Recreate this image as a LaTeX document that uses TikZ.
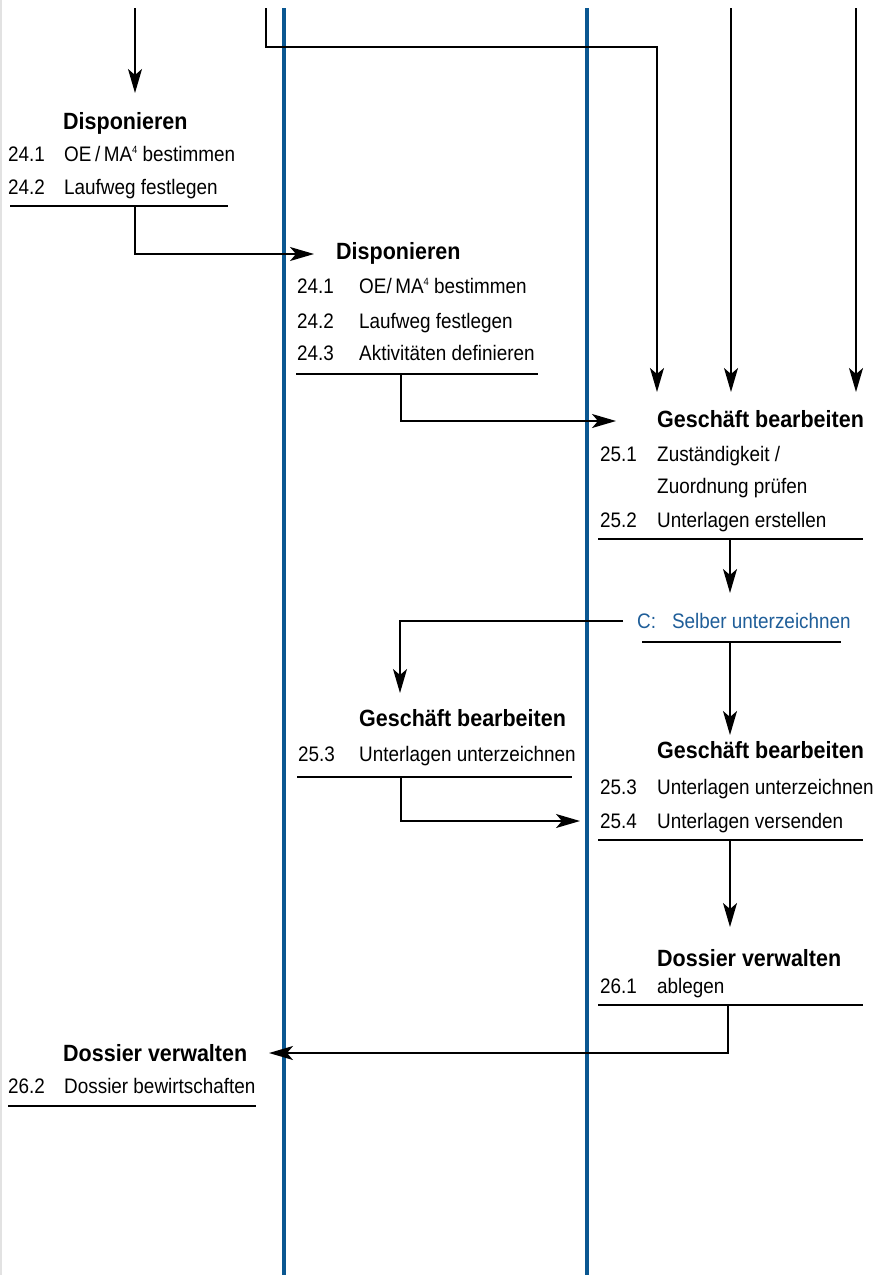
\documentclass[tikz,border=0pt]{standalone}
\usepackage{fontspec}
\setmainfont{Liberation Sans}
\newfontfamily\condfont[FakeStretch=0.9]{Liberation Sans}
\newfontfamily\condboldfont[FakeStretch=0.915]{Liberation Sans}
\usetikzlibrary{arrows.meta}
\definecolor{laneblue}{HTML}{0A5791}
\definecolor{choiceblue}{HTML}{1F5E99}
\definecolor{edgegrey}{HTML}{E2E2E2}
\newcommand{\supfour}{\raisebox{7.2pt}{\fontsize{10.5}{10.5}\selectfont 4}}
\begin{document}
\begin{tikzpicture}[x=1pt,y=-1pt,
  txt/.style={anchor=base west,inner sep=0pt,font=\condfont\fontsize{21}{24}\selectfont},
  ttl/.style={anchor=base west,inner sep=0pt,font=\condboldfont\fontsize{23.5}{26}\selectfont\bfseries},
  flow/.style={draw=black,line width=1.5pt,-{Stealth[length=24pt,width=14pt,inset=6pt]}},
  rulel/.style={draw=black,line width=1.5pt},
  lane/.style={draw=laneblue,line width=3.2pt}]
\useasboundingbox (0,0) rectangle (878,1275);
\fill[white] (0,0) rectangle (878,1275);
% left page edge
\coordinate (edgeT) at (0.8,0);
\coordinate (edgeB) at (0.8,1275);
\draw[edgegrey,line width=1.6pt] (edgeT) -- (edgeB);
% swimlane separators
\coordinate (lane1T) at (284,8);
\coordinate (lane1B) at (284,1275);
\coordinate (lane2T) at (587,8);
\coordinate (lane2B) at (587,1275);
\draw[lane] (lane1T) -- (lane1B);
\draw[lane] (lane2T) -- (lane2B);

% ---- Block A: Disponieren (left)
\node[ttl] (A) at (63,129) {Disponieren};
\node[txt] (A1n) at (8,161) {24.1};
\node[txt] (A1) at (64,161) {OE\,/\,MA\supfour{} bestimmen};
\node[txt] (A2n) at (8,194) {24.2};
\node[txt] (A2) at (64,194) {Laufweg festlegen};
\coordinate (AuL) at (10,206);
\coordinate (AuR) at (228,206);
\draw[rulel] (AuL) -- (AuR);

% ---- Block B: Disponieren (middle)
\node[ttl] (B) at (336,259) {Disponieren};
\node[txt] (B1n) at (297,293) {24.1};
\node[txt] (B1) at (359,293) {OE/\,MA\supfour{} bestimmen};
\node[txt] (B2n) at (297,328) {24.2};
\node[txt] (B2) at (359,328) {Laufweg festlegen};
\node[txt] (B3n) at (297,360) {24.3};
\node[txt] (B3) at (359,360) {Aktivitäten definieren};
\coordinate (BuL) at (296,374);
\coordinate (BuR) at (538,374);
\draw[rulel] (BuL) -- (BuR);

% ---- Block C: Geschäft bearbeiten (right, upper)
\node[ttl] (C) at (657,427) {Geschäft bearbeiten};
\node[txt] (C1n) at (600,461) {25.1};
\node[txt] (C1) at (657,461) {Zuständigkeit /};
\node[txt] (C1b) at (657,493) {Zuordnung prüfen};
\node[txt] (C2n) at (600,527) {25.2};
\node[txt] (C2) at (657,527) {Unterlagen erstellen};
\coordinate (CuL) at (598,539);
\coordinate (CuR) at (863,539);
\draw[rulel] (CuL) -- (CuR);

% ---- Decision D
\node[txt,text=choiceblue] (D) at (637,628) {C:\hspace{16pt}Selber unterzeichnen};
\coordinate (DuL) at (642,642);
\coordinate (DuR) at (841,642);
\draw[rulel] (DuL) -- (DuR);

% ---- Block E: Geschäft bearbeiten (middle)
\node[ttl] (E) at (359,726) {Geschäft bearbeiten};
\node[txt] (E1n) at (298,761) {25.3};
\node[txt] (E1) at (359,761) {Unterlagen unterzeichnen};
\coordinate (EuL) at (297,777);
\coordinate (EuR) at (572,777);
\draw[rulel] (EuL) -- (EuR);

% ---- Block F: Geschäft bearbeiten (right, lower)
\node[ttl] (F) at (657,758) {Geschäft bearbeiten};
\node[txt] (F1n) at (600,794) {25.3};
\node[txt] (F1) at (657,794) {Unterlagen unterzeichnen};
\node[txt] (F2n) at (600,828) {25.4};
\node[txt] (F2) at (657,828) {Unterlagen versenden};
\coordinate (FuL) at (598,840);
\coordinate (FuR) at (863,840);
\draw[rulel] (FuL) -- (FuR);

% ---- Block G: Dossier verwalten (right)
\node[ttl] (G) at (657,966) {Dossier verwalten};
\node[txt] (G1n) at (600,993) {26.1};
\node[txt] (G1) at (657,993) {ablegen};
\coordinate (GuL) at (598,1005);
\coordinate (GuR) at (863,1005);
\draw[rulel] (GuL) -- (GuR);

% ---- Block H: Dossier verwalten (left)
\node[ttl] (H) at (63,1061) {Dossier verwalten};
\node[txt] (H1n) at (8,1093) {26.2};
\node[txt] (H1) at (64,1093) {Dossier bewirtschaften};
\coordinate (HuL) at (8,1106);
\coordinate (HuR) at (256,1106);
\draw[rulel] (HuL) -- (HuR);

% ---- incoming connectors from above
\coordinate (in1) at (135,8);
\coordinate (in1t) at (135,93);
\draw[flow] (in1) -- (in1t);
\coordinate (in2) at (266,8);
\coordinate (in2k) at (266,47);
\coordinate (in2t) at (657,392);
\draw[flow] (in2) -- (in2k) -| (in2t);
\coordinate (in3) at (731,8);
\coordinate (in3t) at (731,392);
\draw[flow] (in3) -- (in3t);
\coordinate (in4) at (856,8);
\coordinate (in4t) at (856,392);
\draw[flow] (in4) -- (in4t);

% ---- flow connectors
\coordinate (Aout) at (135,206);
\coordinate (Bin) at (314,254);
\draw[flow] (Aout) |- (Bin);
\coordinate (Bout) at (401,374);
\coordinate (Cin) at (616,421);
\draw[flow] (Bout) |- (Cin);
\coordinate (Cout) at (730,539);
\coordinate (Din) at (730,593);
\draw[flow] (Cout) -- (Din);
\coordinate (Dleft) at (623,621);
\coordinate (Ein) at (400,693);
\draw[flow] (Dleft) -| (Ein);
\coordinate (Dout) at (730,642);
\coordinate (Fin) at (730,735);
\draw[flow] (Dout) -- (Fin);
\coordinate (Eout) at (401,777);
\coordinate (Fin2) at (580,821);
\draw[flow] (Eout) |- (Fin2);
\coordinate (Fout) at (730,840);
\coordinate (Gin) at (730,927);
\draw[flow] (Fout) -- (Gin);
\coordinate (Gout) at (728,1005);
\coordinate (Hin) at (269,1053);
\draw[flow] (Gout) |- (Hin);
\end{tikzpicture}
\end{document}
